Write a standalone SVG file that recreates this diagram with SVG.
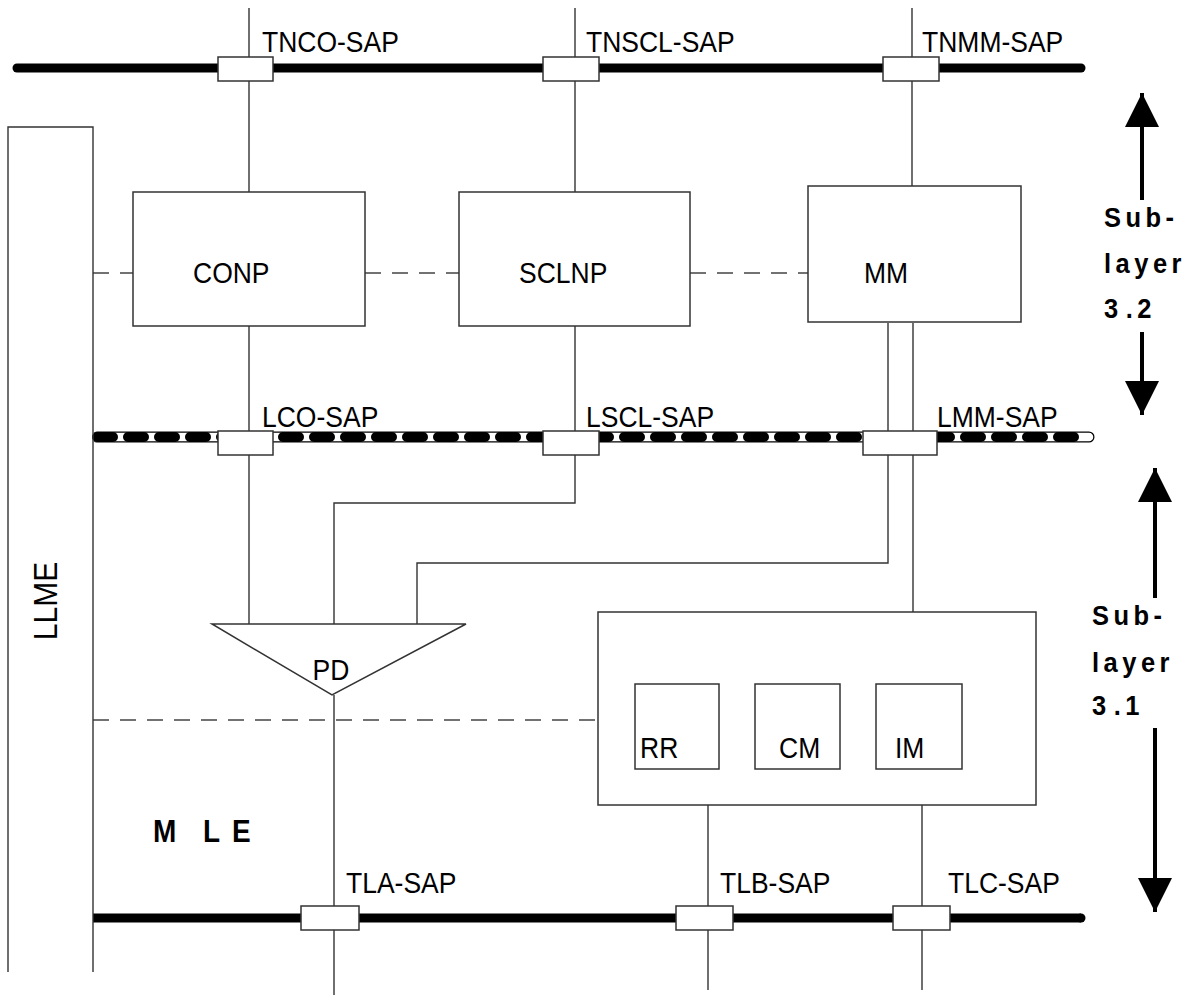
<svg xmlns="http://www.w3.org/2000/svg" width="1193" height="996" viewBox="0 0 1193 996">
<style>
.ln{stroke:#333;stroke-width:1.4;fill:none}
.bx{stroke:#333;stroke-width:1.5;fill:#fff}
.dash{stroke:#444;stroke-width:1.3;fill:none;stroke-dasharray:16 11}
.bar{stroke:#000;stroke-width:9;stroke-linecap:round;fill:none}
.t{font-family:"Liberation Sans",Arial,sans-serif;font-size:26.5px;fill:#000}
.b{font-family:"Liberation Sans",Arial,sans-serif;font-size:25.5px;font-weight:bold;fill:#000;letter-spacing:4.5px}
.m{font-family:"Liberation Sans",Arial,sans-serif;font-size:28px;font-weight:bold;fill:#000}
</style>
<defs>
<marker id="ah" viewBox="0 0 10 10" refX="10" refY="5" markerWidth="34" markerHeight="34" markerUnits="userSpaceOnUse" orient="auto">
<path d="M0,0 L10,5 L0,10 z" fill="#000"/>
</marker>
</defs>

<g id="connectors">
<line class="ln" x1="249" y1="8" x2="249" y2="192"/>
<line class="ln" x1="575" y1="8" x2="575" y2="192"/>
<line class="ln" x1="912" y1="8" x2="912" y2="186"/>
<line class="ln" x1="249" y1="326" x2="249" y2="624"/>
<polyline class="ln" points="575,326 575,503 334,503 334,624"/>
<polyline class="ln" points="888,323 888,563 417,563 417,624"/>
<line class="ln" x1="913" y1="323" x2="913" y2="612"/>
<line class="ln" x1="334" y1="695" x2="334" y2="995"/>
<line class="ln" x1="708" y1="805" x2="708" y2="990"/>
<line class="ln" x1="922" y1="805" x2="922" y2="990"/>
<line class="dash" x1="93" y1="273" x2="133" y2="273"/>
<line class="dash" x1="365" y1="273" x2="459" y2="273"/>
<line class="dash" x1="690" y1="273" x2="808" y2="273"/>
<line class="dash" x1="93" y1="720" x2="598" y2="720"/>
</g>

<g id="top-bar">
<line class="bar" x1="17" y1="68" x2="1081" y2="68"/>
</g>
<g id="mid-bar">
<line x1="97" y1="437" x2="1089" y2="437" stroke="#000" stroke-width="11" stroke-linecap="round"/>
<line x1="93" y1="437" x2="1089" y2="437" stroke="#fff" stroke-width="8.5" stroke-linecap="round"/>
<line x1="97" y1="437" x2="1078" y2="437" stroke="#000" stroke-width="10" stroke-linecap="round" stroke-dasharray="16 15"/>
</g>
<g id="bottom-bar">
<line x1="93" y1="918" x2="1081" y2="918" stroke="#000" stroke-width="9"/>
<circle cx="1081" cy="918" r="4.5" fill="#000"/>
</g>

<g id="LLME">
<path class="ln" d="M8,972 L8,127 L93,127 L93,972"/>
<text class="t" style="font-size:30px" transform="translate(57,601) rotate(-90) scale(1,1.12)" text-anchor="middle">LLME</text>
</g>

<g id="TNCO-SAP"><rect class="bx" x="218" y="57" width="55" height="24"/><text class="t" transform="translate(262,52) scale(1,1.12)">TNCO-SAP</text></g>
<g id="TNSCL-SAP"><rect class="bx" x="543" y="57" width="56" height="24"/><text class="t" transform="translate(586,52) scale(1,1.12)">TNSCL-SAP</text></g>
<g id="TNMM-SAP"><rect class="bx" x="883" y="57" width="56" height="24"/><text class="t" transform="translate(922,52) scale(1,1.12)">TNMM-SAP</text></g>

<g id="CONP"><rect class="bx" x="133" y="192" width="232" height="134"/><text class="t" transform="translate(193,283) scale(1,1.12)">CONP</text></g>
<g id="SCLNP"><rect class="bx" x="459" y="192" width="231" height="134"/><text class="t" transform="translate(519,283) scale(1,1.12)">SCLNP</text></g>
<g id="MM"><rect class="bx" x="808" y="186" width="213" height="136"/><text class="t" transform="translate(864,283) scale(1,1.12)">MM</text></g>

<g id="LCO-SAP"><rect class="bx" x="218" y="431" width="55" height="24"/><text class="t" transform="translate(262,427) scale(1,1.12)">LCO-SAP</text></g>
<g id="LSCL-SAP"><rect class="bx" x="543" y="431" width="56" height="24"/><text class="t" transform="translate(586,427) scale(1,1.12)">LSCL-SAP</text></g>
<g id="LMM-SAP"><rect class="bx" x="863" y="431" width="74" height="24"/><text class="t" transform="translate(937,427) scale(1,1.12)">LMM-SAP</text></g>

<g id="PD">
<polygon class="bx" points="212,624 466,624 332,695"/>
<text class="t" transform="translate(331,680) scale(1,1.12)" text-anchor="middle">PD</text>
</g>

<g id="RRCMIM">
<rect class="bx" x="598" y="612" width="438" height="193"/>
</g>
<g id="RR"><rect class="bx" x="635" y="684" width="84" height="85"/><text class="t" transform="translate(640,758) scale(1,1.12)">RR</text></g>
<g id="CM"><rect class="bx" x="755" y="684" width="85" height="85"/><text class="t" transform="translate(779,758) scale(1,1.12)">CM</text></g>
<g id="IM"><rect class="bx" x="876" y="684" width="86" height="85"/><text class="t" transform="translate(895,758) scale(1,1.12)">IM</text></g>

<g id="MLE">
<text class="m" transform="translate(153,842) scale(1,1.1)">M</text>
<text class="m" transform="translate(203,842) scale(1,1.1)">L</text>
<text class="m" transform="translate(232,842) scale(1,1.1)">E</text>
</g>

<g id="TLA-SAP"><rect class="bx" x="301" y="906" width="58" height="24"/><text class="t" transform="translate(346,893) scale(1,1.12)">TLA-SAP</text></g>
<g id="TLB-SAP"><rect class="bx" x="676" y="906" width="57" height="24"/><text class="t" transform="translate(720,893) scale(1,1.12)">TLB-SAP</text></g>
<g id="TLC-SAP"><rect class="bx" x="893" y="906" width="57" height="24"/><text class="t" transform="translate(948,893) scale(1,1.12)">TLC-SAP</text></g>

<g id="sublayer32">
<line x1="1142" y1="200" x2="1142" y2="93" stroke="#000" stroke-width="4" marker-end="url(#ah)"/>
<line x1="1142" y1="332" x2="1142" y2="415" stroke="#000" stroke-width="4" marker-end="url(#ah)"/>
<text class="b" transform="translate(1104,227) scale(1,1.08)">Sub-</text>
<text class="b" transform="translate(1104,273) scale(1,1.08)">layer</text>
<text class="b" transform="translate(1104,318) scale(1,1.08)">3<tspan dx="3">.</tspan>2</text>
</g>
<g id="sublayer31">
<line x1="1155" y1="598" x2="1155" y2="468" stroke="#000" stroke-width="4" marker-end="url(#ah)"/>
<line x1="1155" y1="728" x2="1155" y2="912" stroke="#000" stroke-width="4" marker-end="url(#ah)"/>
<text class="b" transform="translate(1092,625) scale(1,1.08)">Sub-</text>
<text class="b" transform="translate(1092,672) scale(1,1.08)">layer</text>
<text class="b" transform="translate(1092,715) scale(1,1.08)">3<tspan dx="3">.</tspan>1</text>
</g>
</svg>
